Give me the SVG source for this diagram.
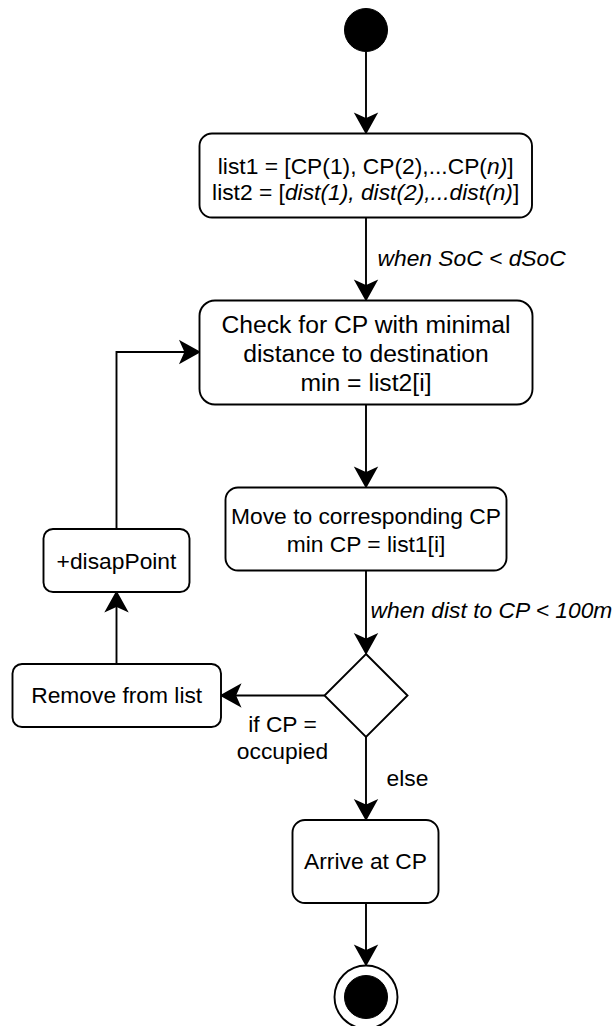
<svg xmlns="http://www.w3.org/2000/svg" width="614" height="1026" viewBox="0 0 614 1026">
<style>
  .box { fill: #ffffff; stroke: #000000; stroke-width: 1.9; }
  .edge { fill: none; stroke: #000000; stroke-width: 1.9; }
  .t { font-family: "Liberation Sans", Arial, Helvetica, sans-serif; font-size: 22.8px; fill: #000000; text-anchor: middle; }
  .big { font-size: 24.7px; }
  .lbl { font-family: "Liberation Sans", Arial, Helvetica, sans-serif; font-size: 22.8px; fill: #000000; }
  .it { font-style: italic; }
</style>
<defs>
  <marker id="arrow" markerUnits="userSpaceOnUse" markerWidth="24" markerHeight="24" viewBox="-1 -12 21 24" refX="18" refY="0" orient="auto" overflow="visible">
    <path d="M0,-10 L18,0 L0,10 L4.5,0 Z" fill="#000000" stroke="#000000" stroke-width="1.9" stroke-linejoin="miter"/>
  </marker>
</defs>

<g id="connectors">
  <path class="edge" d="M366,52 L366,132.5" marker-end="url(#arrow)"/>
  <path class="edge" d="M366,217.5 L366,299.5" marker-end="url(#arrow)"/>
  <path class="edge" d="M366,404.5 L366,486.5" marker-end="url(#arrow)"/>
  <path class="edge" d="M366,570.5 L366,653" marker-end="url(#arrow)"/>
  <path class="edge" d="M324.5,695.5 L221.5,695.5" marker-end="url(#arrow)"/>
  <path class="edge" d="M116.5,664 L116.5,592.5" marker-end="url(#arrow)"/>
  <path class="edge" d="M116.5,529 L116.5,352 L199,352" marker-end="url(#arrow)"/>
  <path class="edge" d="M366,737 L366,819" marker-end="url(#arrow)"/>
  <path class="edge" d="M366,903 L366,964.5" marker-end="url(#arrow)"/>
  <text class="lbl it" x="377.5" y="265.5">when SoC &lt; dSoC</text>
  <text class="lbl it" x="370.5" y="618">when dist to CP &lt; 100m</text>
  <text class="t" x="282.5" y="731.5">if CP =</text>
  <text class="t" x="282.5" y="758.5">occupied</text>
  <text class="lbl" x="386.5" y="786">else</text>
</g>

<g id="start">
  <circle cx="366" cy="30" r="21.5" fill="#000000" stroke="#000000" stroke-width="1"/>
</g>

<g id="lists">
  <rect class="box" x="199.5" y="133.5" width="332.5" height="84" rx="12.5" ry="12.5"/>
  <text class="t" x="365.7" y="173.5">list1 = [CP(1), CP(2),...CP(<tspan class="it">n)</tspan>]</text>
  <text class="t" x="365.7" y="200">list2 = [<tspan class="it">dist(1), dist(2),...dist(n)</tspan>]</text>
</g>

<g id="check">
  <rect class="box" x="199.5" y="300.5" width="333" height="104" rx="15.5" ry="15.5"/>
  <text class="t big" x="366" y="332.5">Check for CP with minimal</text>
  <text class="t big" x="366" y="361.5">distance to destination</text>
  <text class="t big" x="366" y="391">min = list2[i]</text>
</g>

<g id="move">
  <rect class="box" x="225.5" y="487.5" width="281" height="83" rx="12.5" ry="12.5"/>
  <text class="t" x="366" y="524">Move to corresponding CP</text>
  <text class="t" x="366" y="552">min CP = list1[i]</text>
</g>

<g id="decision">
  <polygon class="box" points="366,654 407.5,695.5 366,737 324.5,695.5"/>
</g>

<g id="disap">
  <rect class="box" x="43.5" y="529" width="146" height="63" rx="9.5" ry="9.5"/>
  <text class="t" x="116.5" y="568.5">+disapPoint</text>
</g>

<g id="remove">
  <rect class="box" x="12.5" y="664" width="208.5" height="63" rx="9.5" ry="9.5"/>
  <text class="t" x="116.7" y="703">Remove from list</text>
</g>

<g id="arrive">
  <rect class="box" x="292.5" y="820" width="146" height="83" rx="12.5" ry="12.5"/>
  <text class="t" x="365.5" y="869">Arrive at CP</text>
</g>

<g id="end">
  <circle cx="366" cy="997" r="31.5" fill="#ffffff" stroke="#000000" stroke-width="1.9"/>
  <circle cx="366" cy="997" r="21.5" fill="#000000" stroke="#000000" stroke-width="1"/>
</g>
</svg>
